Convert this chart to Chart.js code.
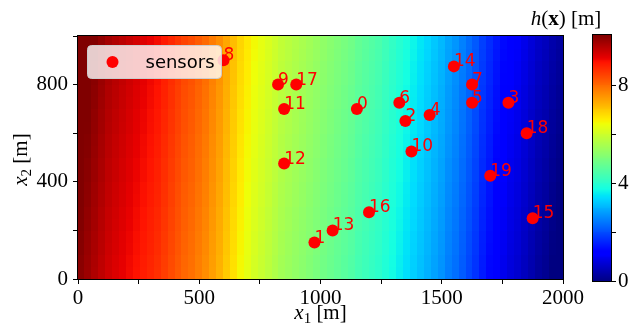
<!DOCTYPE html>
<html>
<head>
<meta charset="utf-8">
<script src="https://cdn.jsdelivr.net/npm/chart.js@4.4.1/dist/chart.umd.min.js"></script>
<style>
  html, body { margin: 0; padding: 0; background: #fff; }
  #wrap { position: relative; width: 629px; height: 329px; }
  #wrap canvas { position: absolute; left: 0; top: 0; }
</style>
</head>
<body>
<div id="wrap">
  <canvas id="main" width="629" height="329"></canvas>
  <canvas id="cbar" width="629" height="329"></canvas>
</div>
<script>
// sensor positions [m]
const sensorIds = [0, 1, 2, 3, 4, 5, 6, 7, 8, 9, 10, 11, 12, 13, 14, 15, 16, 17, 18, 19];
const sensorX = [1150, 975, 1350, 1775, 1450, 1625, 1325, 1625, 600, 825, 1375, 850, 850, 1050, 1550, 1875, 1200, 900, 1850, 1700];
const sensorY = [700, 150, 650, 725, 675, 725, 725, 800, 900, 800, 525, 700, 475, 200, 875, 250, 275, 800, 600, 425];

const fieldCols = [
  10.1, 9.95, 9.8, 9.65, 9.5, 9.4, 9.3, 9.2, 9.1, 9.0,
  8.9, 8.8, 8.65, 8.5, 8.35, 8.2, 8.1, 7.95, 7.8, 7.6,
  7.4, 7.15, 6.9, 6.65, 6.45, 6.25, 6.1, 5.95, 5.8, 5.65,
  5.55, 5.45, 5.35, 5.25, 5.15, 5.05, 4.95, 4.85, 4.75, 4.65,
  4.5, 4.4, 4.3, 4.2, 4.05, 3.9, 3.75, 3.6, 3.45, 3.3,
  3.15, 3.0, 2.85, 2.65, 2.5, 2.3, 2.1, 1.9, 1.65, 1.45,
  1.25, 1.1, 0.95, 0.85, 0.7, 0.55, 0.4, 0.3, 0.15, 0.05
];
// small change of the field from bottom row to top row (0..1000 m)
const rowShift = [-0.15, -0.14, -0.11, -0.1, -0.07, -0.06, -0.03, -0.02, 0.01, 0.02,
                  0.05, 0.06, 0.09, 0.1, 0.13, 0.14, 0.17, 0.18, 0.21, 0.23];

const xRange = [0, 2000];
const yRange = [0, 1000];
const hRange = [0, 10.05];
const xTickLabels = [0, 500, 1000, 1500, 2000];
const yTickLabels = [0, 400, 800];
const cbTicks = [0, 2, 4, 6, 8];
const cbTickLabels = [0, 4, 8];

const SERIF = "'Liberation Serif', 'DejaVu Serif', serif";
const SANS = "'DejaVu Sans', sans-serif";

// matplotlib jet
const jetR = [[0, 0], [0.35, 0], [0.66, 1], [0.89, 1], [1, 0.5]];
const jetG = [[0, 0], [0.125, 0], [0.375, 1], [0.64, 1], [0.91, 0], [1, 0]];
const jetB = [[0, 0.5], [0.11, 1], [0.34, 1], [0.65, 0], [1, 0]];
function interp(pts, t) {
  for (let k = 1; k < pts.length; k++) {
    if (t <= pts[k][0]) {
      const [t0, v0] = pts[k - 1], [t1, v1] = pts[k];
      return v0 + (v1 - v0) * (t - t0) / (t1 - t0);
    }
  }
  return pts[pts.length - 1][1];
}
function jet(v) {
  let t = (v - hRange[0]) / (hRange[1] - hRange[0]);
  t = Math.min(1, Math.max(0, t));
  const c = p => Math.round(255 * interp(p, t));
  return `rgb(${c(jetR)},${c(jetG)},${c(jetB)})`;
}

// draws text made of parts (italic / bold / subscript) centred on x
function drawParts(ctx, parts, cx, baseY) {
  let w = 0;
  parts.forEach(p => { ctx.font = p.font; w += ctx.measureText(p.t).width; });
  let x = cx - w / 2;
  ctx.textAlign = 'left';
  ctx.textBaseline = 'alphabetic';
  parts.forEach(p => {
    ctx.font = p.font;
    ctx.fillText(p.t, x, baseY + (p.dy || 0));
    x += ctx.measureText(p.t).width;
  });
}

const fieldPlugin = {
  id: 'field',
  beforeDatasetsDraw(chart) {
    const { ctx, scales: { x, y } } = chart;
    const nc = fieldCols.length, nr = rowShift.length;
    const dx = (xRange[1] - xRange[0]) / nc, dy = (yRange[1] - yRange[0]) / nr;
    ctx.save();
    for (let i = 0; i < nc; i++) {
      const x0 = Math.floor(x.getPixelForValue(xRange[0] + i * dx));
      const x1 = Math.ceil(x.getPixelForValue(xRange[0] + (i + 1) * dx));
      for (let j = 0; j < nr; j++) {
        const yb = Math.ceil(y.getPixelForValue(yRange[0] + j * dy));
        const yt = Math.floor(y.getPixelForValue(yRange[0] + (j + 1) * dy));
        ctx.fillStyle = jet(fieldCols[i] + rowShift[j]);
        ctx.fillRect(x0, yt, x1 - x0, yb - yt);
      }
    }
    // sensor numbers (under the dots)
    ctx.fillStyle = '#ff0000';
    ctx.font = '17px ' + SANS;
    ctx.textAlign = 'left';
    ctx.textBaseline = 'alphabetic';
    sensorIds.forEach((id, i) => {
      ctx.fillText(String(id), x.getPixelForValue(sensorX[i]), y.getPixelForValue(sensorY[i]));
    });
    ctx.restore();
  },
  afterDraw(chart) {
    const { ctx, chartArea: a } = chart;
    ctx.save();
    // frame
    ctx.strokeStyle = '#000';
    ctx.lineWidth = 1;
    ctx.strokeRect(a.left - 0.5, a.top - 0.5, a.right - a.left + 1, a.bottom - a.top + 1);

    // legend
    const lx = a.left + 9.5, ly = a.top + 9.5, lw = 134, lh = 33;
    ctx.beginPath();
    ctx.roundRect(lx, ly, lw, lh, 4);
    ctx.fillStyle = 'rgba(255,255,255,0.8)';
    ctx.fill();
    ctx.strokeStyle = '#cccccc';
    ctx.stroke();
    ctx.beginPath();
    ctx.arc(lx + 25, ly + lh / 2, 6, 0, Math.PI * 2);
    ctx.fillStyle = '#ff0000';
    ctx.fill();
    ctx.fillStyle = '#000';
    ctx.font = '18px ' + SANS;
    ctx.textBaseline = 'middle';
    ctx.fillText(chart.data.datasets[0].label, lx + 58, ly + lh / 2 + 1);

    // axis titles
    ctx.fillStyle = '#000';
    drawParts(ctx, [
      { t: 'x', font: 'italic 21px ' + SERIF },
      { t: '1', font: '15px ' + SERIF, dy: 4 },
      { t: ' [m]', font: '21px ' + SERIF }
    ], (a.left + a.right) / 2, 319);
    ctx.translate(27, (a.top + a.bottom) / 2 + 2);
    ctx.rotate(-Math.PI / 2);
    drawParts(ctx, [
      { t: 'x', font: 'italic 21px ' + SERIF },
      { t: '2', font: '15px ' + SERIF, dy: 4 },
      { t: ' [m]', font: '21px ' + SERIF }
    ], 0, 0);
    ctx.restore();
  }
};

const tickFont = { family: SERIF, size: 21 };

new Chart(document.getElementById('main'), {
  type: 'scatter',
  data: {
    datasets: [{
      label: 'sensors',
      data: sensorIds.map((id, i) => ({ x: sensorX[i], y: sensorY[i] })),
      backgroundColor: '#ff0000',
      borderWidth: 0,
      pointRadius: 6,
      pointHoverRadius: 6
    }]
  },
  options: {
    responsive: false,
    animation: false,
    devicePixelRatio: 1,
    layout: { padding: { top: 36, right: 66, left: 0, bottom: 0 } },
    plugins: { legend: { display: false }, tooltip: { enabled: false } },
    scales: {
      x: {
        type: 'linear', min: xRange[0], max: xRange[1],
        afterFit(s) { s.height = 50; },
        ticks: {
          stepSize: 250, autoSkip: false, maxRotation: 0, padding: 2,
          color: '#000', font: tickFont,
          callback: v => xTickLabels.includes(v) ? String(v) : ''
        },
        grid: { drawOnChartArea: false, drawTicks: true, tickLength: 5, color: '#000' },
        border: { display: false }
      },
      y: {
        type: 'linear', min: yRange[0], max: yRange[1],
        afterFit(s) { s.width = 78; },
        ticks: {
          stepSize: 200, autoSkip: false, padding: 5,
          color: '#000', font: tickFont,
          callback: v => yTickLabels.includes(v) ? String(v) : ''
        },
        grid: { drawOnChartArea: false, drawTicks: true, tickLength: 5, color: '#000' },
        border: { display: false }
      }
    }
  },
  plugins: [fieldPlugin]
});

const cbarPlugin = {
  id: 'cbarFill',
  beforeDatasetsDraw(chart) {
    const { ctx, chartArea: a, scales: { y } } = chart;
    const n = 256;
    ctx.save();
    for (let k = 0; k < n; k++) {
      const v0 = hRange[0] + (hRange[1] - hRange[0]) * k / n;
      const v1 = hRange[0] + (hRange[1] - hRange[0]) * (k + 1) / n;
      const p0 = y.getPixelForValue(v0), p1 = y.getPixelForValue(v1);
      ctx.fillStyle = jet((v0 + v1) / 2);
      ctx.fillRect(a.left, Math.floor(p1), a.right - a.left, Math.ceil(p0) - Math.floor(p1));
    }
    ctx.strokeStyle = '#000';
    ctx.lineWidth = 1;
    ctx.strokeRect(a.left - 0.5, a.top - 0.5, a.right - a.left + 1, a.bottom - a.top + 1);
    ctx.fillStyle = '#000';
    drawParts(ctx, [
      { t: 'h', font: 'italic 21px ' + SERIF },
      { t: '(', font: '21px ' + SERIF },
      { t: 'x', font: 'bold 21px ' + SERIF },
      { t: ') [m]', font: '21px ' + SERIF }
    ], 566, 25);
    ctx.restore();
  }
};

new Chart(document.getElementById('cbar'), {
  type: 'scatter',
  data: { datasets: [{ data: [] }] },
  options: {
    responsive: false,
    animation: false,
    devicePixelRatio: 1,
    layout: { padding: { top: 35, bottom: 48, left: 593, right: 0 } },
    plugins: { legend: { display: false }, tooltip: { enabled: false } },
    scales: {
      x: { display: false, min: 0, max: 1 },
      y: {
        type: 'linear', position: 'right', min: hRange[0], max: hRange[1],
        afterFit(s) { s.width = 18; },
        afterBuildTicks(s) { s.ticks = cbTicks.map(v => ({ value: v })); },
        ticks: {
          padding: 2, color: '#000', font: tickFont,
          callback: v => cbTickLabels.includes(v) ? String(v) : ''
        },
        grid: { drawOnChartArea: false, drawTicks: true, tickLength: 5, color: '#000' },
        border: { display: false }
      }
    }
  },
  plugins: [cbarPlugin]
});
</script>
</body>
</html>
